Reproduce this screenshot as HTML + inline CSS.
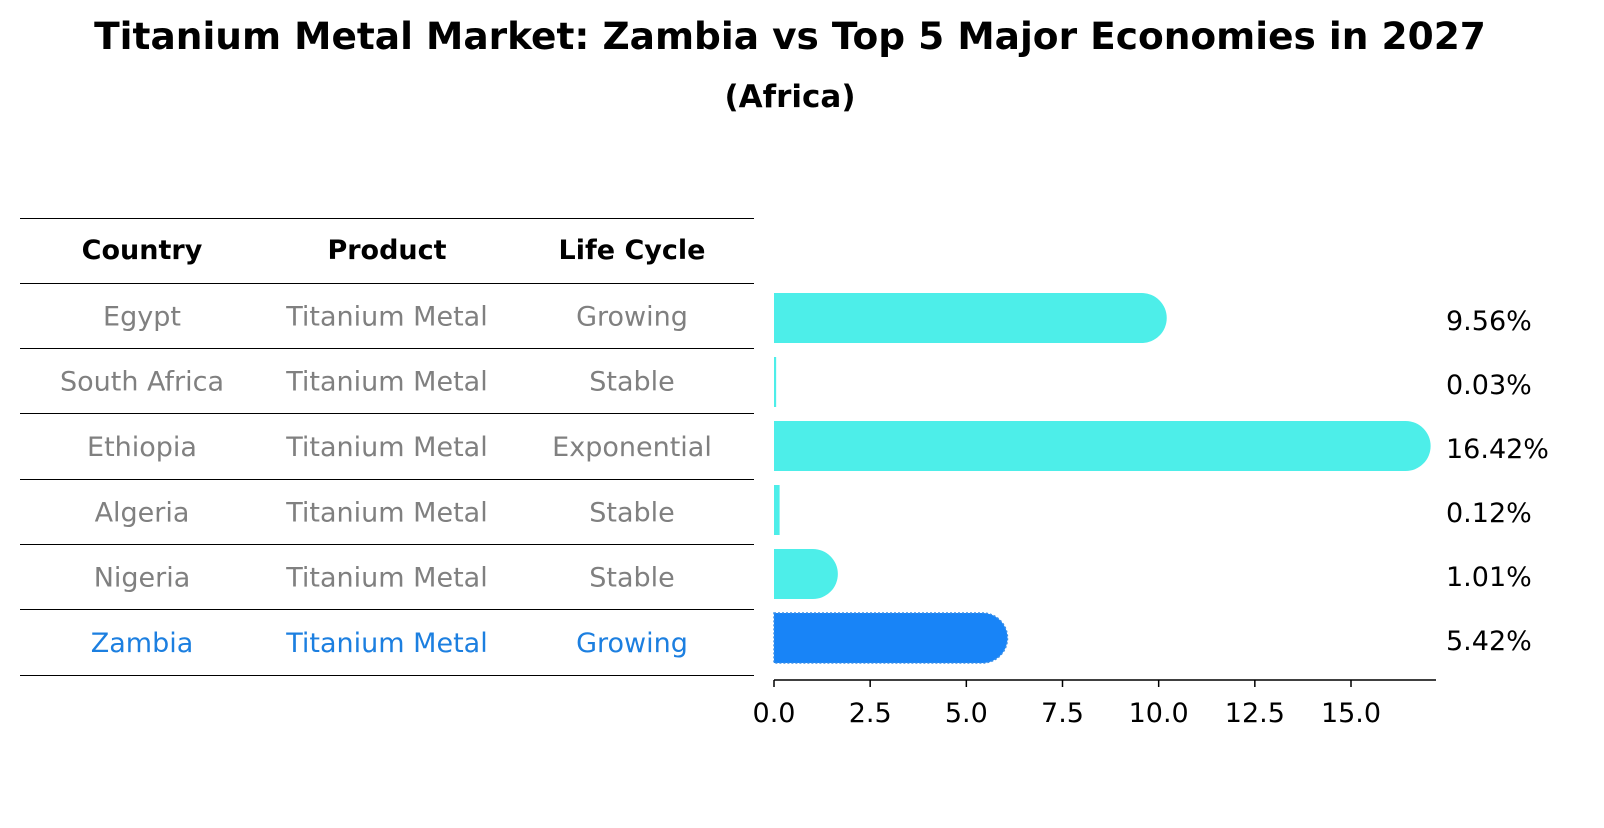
<!DOCTYPE html>
<html><head><meta charset="utf-8"><style>
body{margin:0;background:#fff;width:1604px;height:823px;overflow:hidden;font-family:"Liberation Sans","DejaVu Sans",sans-serif}
</style></head><body>
<svg id="chart" width="1604" height="823" xmlns="http://www.w3.org/2000/svg">
<text x="790" y="49" text-anchor="middle" font-size="37.5" font-weight="bold" font-family="DejaVu Sans, sans-serif">Titanium Metal Market: Zambia vs Top 5 Major Economies in 2027</text>
<text x="790" y="107" text-anchor="middle" font-size="31" font-weight="bold" font-family="DejaVu Sans, sans-serif">(Africa)</text>
<g id="table"></g>
<g id="bars"></g>
</svg>
<script>
const countries=["Egypt","South Africa","Ethiopia","Algeria","Nigeria","Zambia"];
const products=["Titanium Metal","Titanium Metal","Titanium Metal","Titanium Metal","Titanium Metal","Titanium Metal"];
const lifeCycles=["Growing","Stable","Exponential","Stable","Stable","Growing"];
const shares=[9.56,0.03,16.42,0.12,1.01,5.42];
const xTicks=[0,2.5,5,7.5,10,12.5,15];
const NS="http://www.w3.org/2000/svg";
function mk(tag,attrs,parent){const e=document.createElementNS(NS,tag);for(const k in attrs)e.setAttribute(k,attrs[k]);parent.appendChild(e);return e;}
const tbl=document.getElementById('table');
const lineYs=[218,283,348,413,479,544,609,675];
lineYs.forEach((y,i)=>{const l=mk('line',{x1:20,x2:754,y1:y+0.5,y2:y+0.5,stroke:'#000','stroke-width':1},tbl);

});
const colX=[142,387,632];
const fontF='DejaVu Sans, sans-serif';
const FS=27;
["Country","Product","Life Cycle"].forEach((h,i)=>{const t=mk('text',{x:colX[i],y:259,'text-anchor':'middle','font-size':FS,'font-weight':'bold','font-family':fontF},tbl);t.textContent=h;

});
countries.forEach((c,i)=>{const y=(lineYs[i+1]+lineYs[i+2])/2+10;const col=c==="Zambia"?'#1c7fe0':'#808080';
[c,products[i],lifeCycles[i]].forEach((v,j)=>{const t=mk('text',{x:colX[j],y:y,'text-anchor':'middle','font-size':FS,fill:col,'font-family':fontF},tbl);t.textContent=v;

});});
const bars=document.getElementById('bars');
const x0=774,pxPer=(1351-774)/15;
const xs=v=>x0+v*pxPer;
const rowY=i=>318+i*64;
const bh=50,r=25;
shares.forEach((v,i)=>{const cy=rowY(i);const xe=xs(v);const isZ=countries[i]==="Zambia";
const fill=isZ?'#1884f7':'#4deee9';
let d;
if(xe-x0<1){d=`M${x0} ${cy-bh/2}h${Math.max(xe-x0,1.2)}v${bh}h${-Math.max(xe-x0,1.2)}z`;}
else if(v<0.5){d=`M${x0} ${cy-bh/2}H${xe+1}V${cy+bh/2}H${x0}z`;}
else{d=`M${x0} ${cy-bh/2}H${xe}A${r} ${r} 0 0 1 ${xe} ${cy+bh/2}H${x0}z`;}
const p=mk('path',{d:d,fill:fill},bars);
if(isZ){p.setAttribute('stroke','#3a8fe8');p.setAttribute('stroke-dasharray','2 2');p.setAttribute('stroke-width','1.5');}


const t=mk('text',{x:1446,y:cy+12,'font-size':FS,'font-family':fontF},bars);t.textContent=v.toFixed(2)+'%';

});
const ax=mk('line',{x1:774,x2:1436,y1:680,y2:680,stroke:'#000','stroke-width':1.5},bars);


xTicks.forEach(v=>{const x=xs(v);const tk=mk('line',{x1:x,x2:x,y1:680,y2:687,stroke:'#000','stroke-width':1.5},bars);


const t=mk('text',{x:x,y:722,'text-anchor':'middle','font-size':FS,'font-family':fontF},bars);t.textContent=v.toFixed(1);

});
</script>
</body></html>
